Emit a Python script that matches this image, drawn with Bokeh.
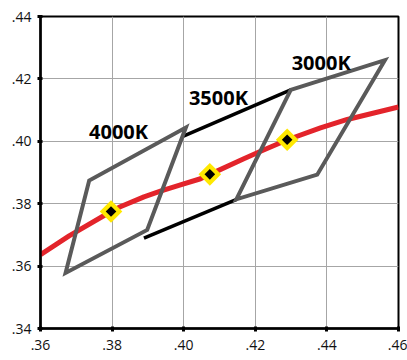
from bokeh.plotting import figure
from bokeh.models import FixedTicker, Range1d
from bokeh.core.properties import value
from bokeh.embed import file_html
from bokeh.resources import INLINE

# Axis ticks
x_ticks = [0.36, 0.38, 0.40, 0.42, 0.44, 0.46]
y_ticks = [0.34, 0.36, 0.38, 0.40, 0.42, 0.44]
x_tick_labels = [".36", ".38", ".40", ".42", ".44", ".46"]
y_tick_labels = [".34", ".36", ".38", ".40", ".42", ".44"]

# Quadrangles (x, y corners)
q4000_x = [0.3670, 0.3736, 0.4006, 0.3898]
q4000_y = [0.3578, 0.3874, 0.4044, 0.3716]
q3500_x = [0.3889, 0.3996, 0.4299, 0.4148]
q3500_y = [0.3690, 0.4015, 0.4165, 0.3814]
q3000_x = [0.4147, 0.4299, 0.4562, 0.4373]
q3000_y = [0.3814, 0.4165, 0.4260, 0.3893]

# Red curve (locus)
curve_x = [0.360, 0.368, 0.3797, 0.3823, 0.3889, 0.3935, 0.3991, 0.4047, 0.4073,
           0.4168, 0.4215, 0.4290, 0.4382, 0.4457, 0.460]
curve_y = [0.3637, 0.3697, 0.3775, 0.3790, 0.3822, 0.3840, 0.3860, 0.3880, 0.3894,
           0.3944, 0.3968, 0.4005, 0.4043, 0.4070, 0.4110]

# Centre points
pt_x = [0.3797, 0.4073, 0.4289]
pt_y = [0.3775, 0.3894, 0.4005]

# Labels
lab_text = ["4000K", "3500K", "3000K"]
lab_x = [0.3818, 0.4097, 0.4384]
lab_y = [0.4033, 0.4141, 0.4253]

p = figure(width=407, height=360, output_backend="svg", toolbar_location=None,
           x_range=Range1d(0.36, 0.46), y_range=Range1d(0.34, 0.44),
           min_border_left=40, min_border_right=9, min_border_top=16, min_border_bottom=32,
           background_fill_color="white", border_fill_color="white")

p.outline_line_color = "black"
p.outline_line_width = 2
p.xgrid.grid_line_color = "#a6a6a6"
p.ygrid.grid_line_color = "#a6a6a6"
p.xgrid.grid_line_width = 1
p.ygrid.grid_line_width = 1

for ax, ticks, labels in ((p.xaxis[0], x_ticks, x_tick_labels), (p.yaxis[0], y_ticks, y_tick_labels)):
    ax.ticker = FixedTicker(ticks=ticks)
    ax.major_label_overrides = {t: l for t, l in zip(ticks, labels)}
    ax.axis_line_color = "black"
    ax.axis_line_width = 2.5
    ax.major_tick_line_color = "black"
    ax.major_tick_line_width = 3
    ax.major_tick_in = 2
    ax.major_tick_out = 3
    ax.minor_tick_line_color = None
    ax.major_label_text_font = "Open Sans"
    ax.major_label_text_font_size = "14px"
    ax.major_label_text_color = "#111111"
p.xaxis.major_label_standoff = 8
p.yaxis.major_label_standoff = 6

# red curve
p.line(curve_x, curve_y, line_color="#e3242b", line_width=5)

# 3500K top and bottom edges (black)
p.line([q3500_x[1], q3500_x[2]], [q3500_y[1], q3500_y[2]], line_color="black", line_width=3.5)
p.line([q3500_x[0], q3500_x[3]], [q3500_y[0], q3500_y[3]], line_color="black", line_width=3.5)

# 4000K and 3000K quads (gray)
p.patches([q4000_x, q3000_x], [q4000_y, q3000_y], fill_color=None,
          line_color="#5a5a5a", line_width=4, line_join="miter")

# centre diamonds
p.scatter(pt_x, pt_y, marker="square", angle=0.785398, size=16,
          fill_color="#ffe800", line_color=None)
p.scatter(pt_x, pt_y, marker="square", angle=0.785398, size=7.5,
          fill_color="black", line_color=None)

p.text(lab_x, lab_y, text=lab_text, text_font=value("Open Sans"), text_font_style="bold",
       text_font_size="20px", text_align="center", text_baseline="middle", text_color="black")

open("out.html", "w").write(file_html(p, INLINE))
